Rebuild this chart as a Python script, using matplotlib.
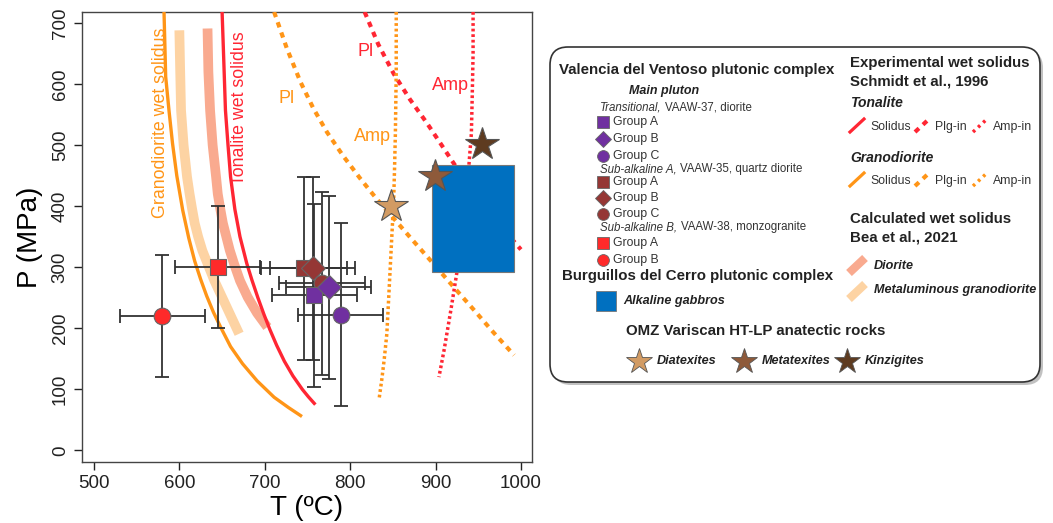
import numpy as np
import matplotlib
matplotlib.use("Agg")
import matplotlib.pyplot as plt
from matplotlib.patches import FancyBboxPatch, Rectangle
from matplotlib.lines import Line2D

plt.rcParams["font.family"] = ["Liberation Sans", "DejaVu Sans"]

grd_sol_T = [582, 584, 588, 592, 597, 604, 611, 618, 625, 632, 640, 649, 660, 674, 691, 711, 728, 742]
grd_sol_P = [721, 612, 555, 503, 450, 393, 348, 310, 280, 253, 226, 200, 170, 142, 114, 87, 70, 57]
ton_sol_T = [650, 652, 654, 657, 660, 665, 671, 679, 685, 692, 699, 706, 714, 723, 733, 744, 751, 758]
ton_sol_P = [721, 640, 557, 500, 448, 395, 350, 306, 279, 250, 223, 198, 172, 146, 122, 100, 88, 77]
metal_T = [600, 601, 602, 605, 609, 612, 615, 618, 622, 627, 633, 641, 650, 660, 670]
metal_P = [688, 620, 557, 500, 448, 420, 395, 372, 350, 327, 306, 278, 251, 221, 191]
dior_T = [633, 634, 636, 639, 643, 645, 648, 651, 655, 659, 664, 671, 680, 691, 703]
dior_P = [691, 620, 557, 500, 448, 420, 395, 372, 350, 328, 306, 278, 251, 225, 202]
grd_pl_T = [711, 726, 742, 757, 773, 792, 812, 831, 851, 874, 898, 921, 945, 968, 992]
grd_pl_P = [718, 658, 603, 560, 521, 482, 445, 412, 380, 343, 305, 268, 230, 193, 156]
grd_amp_T = [854, 854, 853, 852, 851, 849, 847, 845, 843, 840, 837, 834]
grd_amp_P = [718, 620, 519, 460, 410, 355, 300, 245, 191, 150, 115, 85]
ton_pl_T = [817, 833, 851, 870, 890, 910, 929, 949, 968, 984, 1000]
ton_pl_P = [718, 665, 617, 575, 536, 494, 454, 417, 382, 355, 329]
ton_amp_T = [944, 944, 943, 942, 939, 935, 931, 926, 918, 910, 904]
ton_amp_P = [718, 650, 580, 519, 465, 410, 355, 300, 230, 164, 120]

# ---- samples ----
sample_T = [580, 645, 746, 756, 767, 758, 775, 789]
sample_P = [220, 300, 298, 298, 274, 254, 267, 222]
sample_Terr = [50, 50, 50, 50, 50, 50, 50, 50]
sample_Perr = [100, 100, 150, 150, 150, 150, 150, 150]
sample_marker = ["o", "s", "s", "D", "o", "s", "D", "o"]
sample_color = ["#FF2A2A", "#FF2A2A", "#953735", "#953735", "#953735",
                "#7030A0", "#7030A0", "#7030A0"]

# Alkaline gabbros box
gabbro_T = (896, 992)
gabbro_P = (292, 467)

# anatectic rocks
star_T = [848, 899, 955]
star_P = [400, 450, 502]
star_color = ["#D29B63", "#8E5A3A", "#5E3B20"]

ORANGE = "#FF9517"
RED = "#FF2633"

fig = plt.figure(figsize=(10.53, 5.23), dpi=100)
ax = fig.add_axes([82 / 1053, 61 / 523, 450 / 1053, 450 / 523])

kw = dict(solid_joinstyle="round")
ax.plot(metal_T, metal_P, color="#FDD3A3", lw=7, solid_capstyle="butt", zorder=2, **kw)
ax.plot(dior_T, dior_P, color="#F9AA8F", lw=7, solid_capstyle="butt", zorder=2, **kw)
ax.plot(grd_sol_T, grd_sol_P, color=ORANGE, lw=2.4, zorder=3, **kw)
ax.plot(ton_sol_T, ton_sol_P, color=RED, lw=2.4, zorder=3, **kw)
ax.plot(grd_pl_T, grd_pl_P, color=ORANGE, lw=3, dashes=(1.3, 1.3), zorder=3)
ax.plot(ton_pl_T, ton_pl_P, color=RED, lw=3, dashes=(1.3, 1.3), zorder=3)
ax.plot(grd_amp_T, grd_amp_P, color=ORANGE, lw=2.5, dashes=(0.8, 0.8), zorder=3)
ax.plot(ton_amp_T, ton_amp_P, color=RED, lw=2.5, dashes=(0.8, 0.8), zorder=3)

ax.add_patch(Rectangle((gabbro_T[0], gabbro_P[0]), gabbro_T[1] - gabbro_T[0],
                       gabbro_P[1] - gabbro_P[0], facecolor="#0070C0",
                       edgecolor="#777777", lw=0.8, zorder=4))

for t, p, te, pe in zip(sample_T, sample_P, sample_Terr, sample_Perr):
    ax.errorbar(t, p, xerr=te, yerr=pe, fmt="none", ecolor="#333333",
                elinewidth=1.3, capsize=5, capthick=1.3, zorder=5)
for t, p, m, c in zip(sample_T, sample_P, sample_marker, sample_color):
    ax.plot(t, p, marker=m, ms=12, color=c, mec="#666666", mew=0.8,
            ls="none", zorder=6)

for t, p, c in zip(star_T, star_P, star_color):
    ax.plot(t, p, marker="*", ms=25, color=c, mec="#555555", mew=0.8,
            ls="none", zorder=7)

ax.text(578, 536, "Granodiorite wet solidus", color=ORANGE, rotation=90,
        fontsize=12.8, ha="center", va="center")
ax.text(670, 561, "Tonalite wet solidus", color=RED, rotation=90,
        fontsize=12.8, ha="center", va="center")
ax.text(726, 576, "Pl", color=ORANGE, fontsize=13, ha="center", va="center")
ax.text(826, 514, "Amp", color=ORANGE, fontsize=13, ha="center", va="center")
ax.text(818, 653, "Pl", color=RED, fontsize=13, ha="center", va="center")
ax.text(918, 597, "Amp", color=RED, fontsize=13, ha="center", va="center")

ax.set_xlim(486, 1013)
ax.set_ylim(-19, 718)
ax.set_xticks([500, 600, 700, 800, 900, 1000])
ax.set_yticks([0, 100, 200, 300, 400, 500, 600, 700])
ax.tick_params(labelsize=13.5, length=6, width=1, colors="#222222")
for lab in ax.get_yticklabels():
    lab.set_rotation(90)
    lab.set_va("center")
for s in ax.spines.values():
    s.set_color("#444444")
    s.set_linewidth(1)
ax.set_xlabel("T (ºC)", fontsize=20, labelpad=2)
ax.set_ylabel("P (MPa)", fontsize=20, labelpad=6)

# ---- legend panel (pixel coordinates) ----
lax = fig.add_axes([0, 0, 1, 1], zorder=10)
lax.set_xlim(0, 1053)
lax.set_ylim(523, 0)
lax.axis("off")

lax.add_patch(FancyBboxPatch((553, 50), 490, 335, boxstyle="round,pad=0,rounding_size=18",
                             facecolor="#999999", edgecolor="none", alpha=0.6))
lax.add_patch(FancyBboxPatch((550, 47), 490, 335, boxstyle="round,pad=0,rounding_size=18",
                             facecolor="white", edgecolor="#333333", lw=1.2))

TXT = "#333333"
TFS = 10.8
SFS = 8.3


def head(x, y, s, style="normal", size=TFS):
    lax.text(x, y, s, fontsize=size, fontweight="bold", style=style,
             va="center", ha="left", color="#222222")


def mixed(x, y, ital, rest):
    t1 = lax.text(x, y, ital, fontsize=SFS, style="italic", va="center",
                  ha="left", color=TXT)
    lax.annotate(rest, xy=(1, 0.5), xycoords=t1, xytext=(2.5, 0),
                 textcoords="offset points", va="center", ha="left",
                 fontsize=SFS, color=TXT)


def grp(y, m, c, s):
    lax.plot(603, y, marker=m, ms=8.5, color=c, mec="#666666", mew=0.6, ls="none")
    lax.text(613, y, s, fontsize=SFS + 0.5, va="center", ha="left", color=TXT)


head(559, 70, "Valencia del Ventoso plutonic complex")
lax.text(664, 91, "Main pluton", fontsize=SFS + 0.7, fontweight="bold",
         style="italic", ha="center", va="center", color="#222222")
mixed(600, 107, "Transitional,", "VAAW-37, diorite")
grp(122, "s", "#7030A0", "Group A")
grp(139, "D", "#7030A0", "Group B")
grp(156, "o", "#7030A0", "Group C")
mixed(600, 169, "Sub-alkaline A,", "VAAW-35, quartz diorite")
grp(182, "s", "#953735", "Group A")
grp(198, "D", "#953735", "Group B")
grp(214, "o", "#953735", "Group C")
mixed(600, 227, "Sub-alkaline B,", "VAAW-38, monzogranite")
grp(243, "s", "#FF2A2A", "Group A")
grp(260, "o", "#FF2A2A", "Group B")
head(562, 276, "Burguillos del Cerro plutonic complex")
lax.add_patch(Rectangle((596, 291), 20, 20, facecolor="#0070C0",
                        edgecolor="#777777", lw=0.6))
lax.text(623, 301, "Alkaline gabbros", fontsize=SFS + 0.8, fontweight="bold",
         style="italic", va="center", ha="left", color="#222222")
head(626, 331, "OMZ Variscan HT-LP anatectic rocks")
for sx, c, s in zip([639, 744, 847], star_color, ["Diatexites", "Metatexites", "Kinzigites"]):
    lax.plot(sx, 361, marker="*", ms=19, color=c, mec="#555555", mew=0.6, ls="none")
    lax.text(sx + 18, 361, s, fontsize=SFS + 0.8, fontweight="bold",
             style="italic", va="center", ha="left", color="#222222")

head(850, 63, "Experimental wet solidus")
head(850, 82, "Schmidt et al., 1996")
head(850, 103, "Tonalite", style="italic", size=TFS - 0.8)
head(850, 158, "Granodiorite", style="italic", size=TFS - 0.8)
for y0, c in [(127, RED), (181, ORANGE)]:
    lax.add_line(Line2D([850, 864], [y0 + 5, y0 - 8], color=c, lw=2.3))
    lax.add_line(Line2D([915, 928], [y0 + 5, y0 - 7], color=c, lw=3, dashes=(1.3, 1.3)))
    lax.add_line(Line2D([973, 987], [y0 + 5, y0 - 8], color=c, lw=2.5, dashes=(0.8, 1.2)))
    lax.text(870, y0, "Solidus", fontsize=SFS + 0.5, va="center", color=TXT)
    lax.text(935, y0, "Plg-in", fontsize=SFS + 0.5, va="center", color=TXT)
    lax.text(993, y0, "Amp-in", fontsize=SFS + 0.5, va="center", color=TXT)

head(850, 219, "Calculated wet solidus")
head(850, 238, "Bea et al., 2021")
lax.add_line(Line2D([849, 865], [273, 258], color="#F9AA8F", lw=6, solid_capstyle="butt"))
lax.add_line(Line2D([849, 865], [299, 284], color="#FDD3A3", lw=6, solid_capstyle="butt"))
lax.text(874, 266, "Diorite", fontsize=SFS + 0.8, fontweight="bold", style="italic",
         va="center", color="#222222")
lax.text(874, 290, "Metaluminous granodiorite", fontsize=SFS + 0.8, fontweight="bold",
         style="italic", va="center", color="#222222")

fig.savefig("out.png", dpi=100)
